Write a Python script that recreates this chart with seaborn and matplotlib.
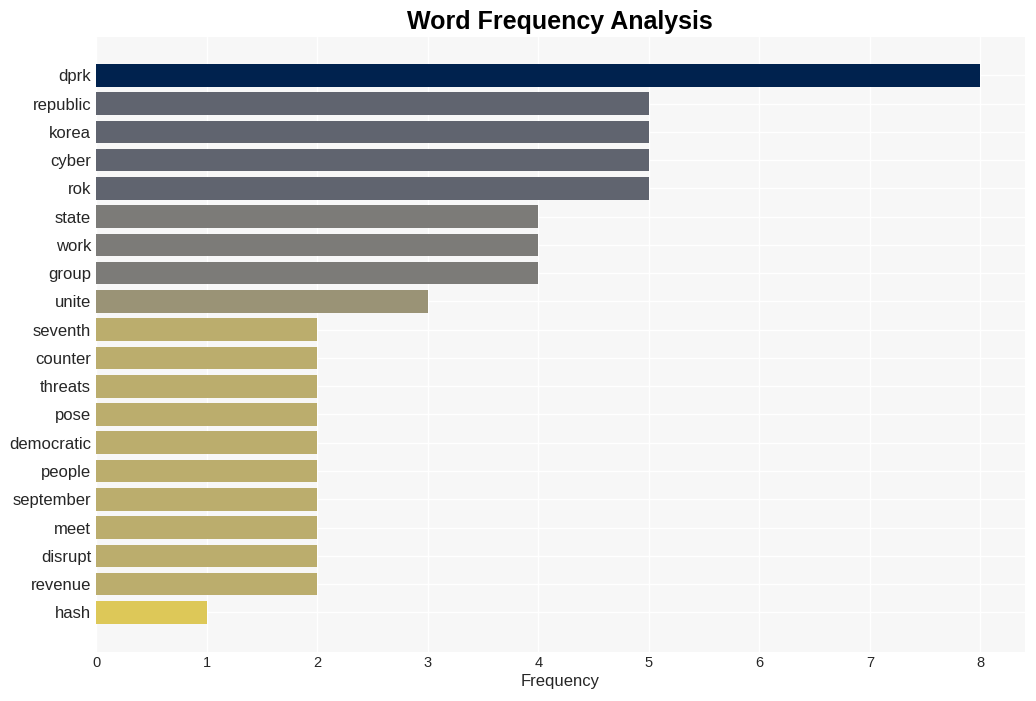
import matplotlib
matplotlib.use("Agg")
import matplotlib.pyplot as plt
import seaborn as sns
import pandas as pd

words = ["dprk", "republic", "korea", "cyber", "rok", "state", "work", "group",
         "unite", "seventh", "counter", "threats", "pose", "democratic", "people",
         "september", "meet", "disrupt", "revenue", "hash"]
counts = [8, 5, 5, 5, 5, 4, 4, 4, 3, 2, 2, 2, 2, 2, 2, 2, 2, 2, 2, 1]
x_ticks = [0, 1, 2, 3, 4, 5, 6, 7, 8]

df = pd.DataFrame({"word": words, "count": counts})

sns.set_theme(style="whitegrid")
plt.rcParams["font.family"] = ["Liberation Sans", "DejaVu Sans"]

fig = plt.figure(figsize=(10.36, 7.01), dpi=100)
ax = fig.add_axes([0.0927, 0.070, 0.8963, 0.877])
ax.set_facecolor("#f7f7f7")

sns.barplot(data=df, x="count", y="word", hue="count", palette="cividis_r",
            hue_norm=(0, 8), legend=False, width=0.8, ax=ax, saturation=1,
            linewidth=0, edgecolor="none")

ax.set_xlim(0, 8.4)
ax.set_ylim(20.4, -1.35)
ax.set_xticks(x_ticks)
ax.grid(True, color="white", linewidth=1)
for s in ax.spines.values():
    s.set_visible(False)
ax.tick_params(axis="y", labelsize=12, pad=3.5, length=0, colors="#262626")
ax.tick_params(axis="x", labelsize=10.5, pad=3, length=0, colors="#262626")
ax.set_xlabel("Frequency", fontsize=12, color="#262626", labelpad=3)
ax.set_ylabel("")
ax.set_title("Word Frequency Analysis", fontsize=18, fontweight="bold",
             color="black", pad=6)

fig.savefig("out.png", dpi=100)
